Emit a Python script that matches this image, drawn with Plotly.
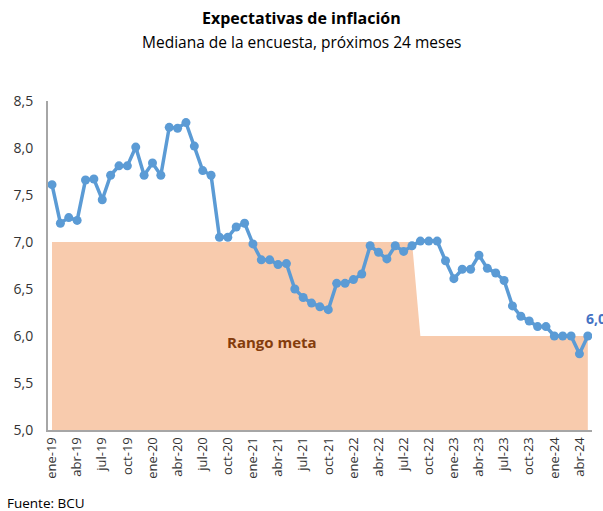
import plotly.graph_objects as go

month_abbr = ["ene", "feb", "mar", "abr", "may", "jun", "jul", "ago", "sep", "oct", "nov", "dic"]
years = ["19", "20", "21", "22", "23", "24"]
categories = [f"{m}-{y}" for y in years for m in month_abbr][:65]

expectativas = [
    7.61, 7.20, 7.26, 7.23, 7.66, 7.67, 7.45, 7.71, 7.81, 7.81, 8.01, 7.71,
    7.84, 7.71, 8.22, 8.21, 8.27, 8.02, 7.76, 7.71, 7.05, 7.05, 7.16, 7.20,
    6.98, 6.81, 6.81, 6.76, 6.77, 6.50, 6.41, 6.35, 6.31, 6.28, 6.56, 6.56,
    6.60, 6.66, 6.96, 6.89, 6.82, 6.96, 6.90, 6.96, 7.01, 7.01, 7.01, 6.80,
    6.61, 6.71, 6.71, 6.86, 6.72, 6.67, 6.59, 6.32, 6.21, 6.16, 6.10, 6.10,
    6.00, 6.00, 6.00, 5.81, 6.00,
]

# Upper bound of the target range (Rango meta): 7 until Aug-22, 6 afterwards
rango_techo = [7.0] * 44 + [6.0] * 21

tick_idx = list(range(0, 65, 3))
tick_text = [categories[i] for i in tick_idx]
x = list(range(len(categories)))

W, H = 603, 511
ML, MR, MT, MB = 48, 11, 101, 81
PW, PH = W - ML - MR, H - MT - MB


def px_to_paper(px, py):
    return (px - ML) / PW, 1 - (py - MT) / PH


fig = go.Figure()
fig.add_trace(go.Scatter(
    x=x, y=rango_techo, mode="lines", line=dict(width=0, color="#F8CBAD"),
    fill="tozeroy", fillcolor="#F8CBAD", hoverinfo="skip", showlegend=False,
))
fig.add_trace(go.Scatter(
    x=x, y=expectativas, mode="lines+markers",
    line=dict(color="#5B9BD5", width=3.5),
    marker=dict(color="#5B9BD5", size=9),
    showlegend=False,
))

fig.add_annotation(
    x=26.3, y=5.94, xref="x", yref="y", text="<b>Rango meta</b>",
    showarrow=False, font=dict(family="Open Sans", size=15, color="#843C0C"),
)
fig.add_annotation(
    x=x[-1], y=expectativas[-1], xref="x", yref="y",
    text="<b>" + f"{expectativas[-1]:.1f}".replace(".", ",") + "</b>",
    showarrow=False, xanchor="left", yanchor="bottom", xshift=-4, yshift=6,
    font=dict(family="Open Sans", size=14, color="#4472C4"),
)

tx, ty = px_to_paper(301, 18)
fig.add_annotation(
    x=tx, y=ty, xref="paper", yref="paper", yanchor="middle",
    text="<b>Expectativas de inflación</b>", showarrow=False,
    font=dict(family="Open Sans", size=16, color="#000000"),
)
sx, sy = px_to_paper(302, 42)
fig.add_annotation(
    x=sx, y=sy, xref="paper", yref="paper", yanchor="middle",
    text="Mediana de la encuesta, próximos 24 meses", showarrow=False,
    font=dict(family="Open Sans", size=15.5, color="#000000"),
)
fx, fy = px_to_paper(5, 503)
fig.add_annotation(
    x=fx, y=fy, xref="paper", yref="paper", xanchor="left", yanchor="middle",
    text="Fuente: BCU", showarrow=False,
    font=dict(family="Open Sans", size=13.5, color="#000000"),
)

fig.update_layout(
    width=W, height=H,
    margin=dict(l=ML, r=MR, t=MT, b=MB),
    paper_bgcolor="white", plot_bgcolor="white",
    separators=",.",
    font=dict(family="Open Sans", size=12, color="#404040"),
)

fig.update_xaxes(
    range=[-0.48, 64.5], tickmode="array", tickvals=tick_idx, ticktext=tick_text,
    tickangle=-90, showgrid=False, zeroline=False, showline=True,
    linecolor="#A6A6A6", linewidth=2, ticks="", automargin=False,
    tickfont=dict(family="Open Sans", size=13, color="#333333"),
)
fig.update_yaxes(
    range=[5, 8.5], dtick=0.5, tickformat=".1f", showgrid=False, zeroline=False,
    showline=True, linecolor="#A6A6A6", linewidth=2, ticks="", automargin=False,
    ticklabelstandoff=10,
    tickfont=dict(family="Open Sans", size=14, color="#333333"),
)

fig.write_html(
    "out.html",
    config={"displayModeBar": False},
    post_script="document.body.style.margin='0';document.body.style.overflow='hidden';",
)
